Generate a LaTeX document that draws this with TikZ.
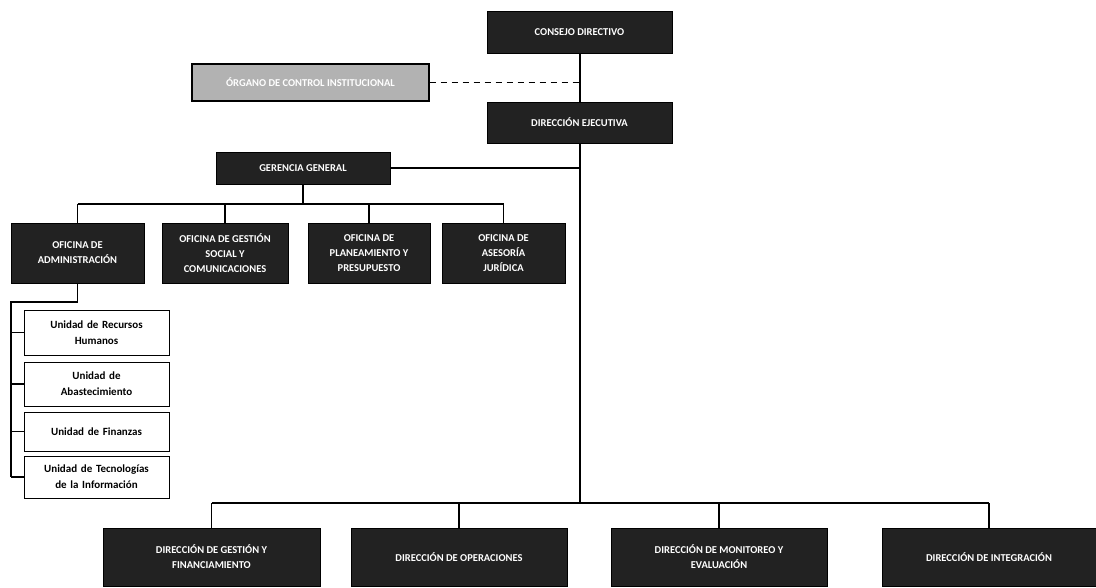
\documentclass[tikz,border=0pt]{standalone}
\usepackage{fontspec}
\setmainfont{Carlito}
\usetikzlibrary{positioning,calc}
\definecolor{orgdark}{RGB}{34,34,34}
\definecolor{orggrey}{RGB}{178,178,178}

\begin{document}
\begin{tikzpicture}[
  x=1pt, y=-1pt,
  font=\fontsize{10.5}{15}\selectfont\bfseries,
  darkbox/.style={draw=black, fill=orgdark, text=white, align=center,
                  inner sep=2pt, line width=0.8pt},
  greybox/.style={draw=black, fill=orggrey, text=white, align=center,
                  inner sep=2pt, line width=1.2pt},
  unitbox/.style={draw=black, fill=white, align=center, inner sep=2pt,
                  line width=1pt, minimum width=145, text width=140,
                  font=\fontsize{11}{16}\selectfont\bfseries},
  link/.style={draw=black, line width=1.2pt},
  mainlink/.style={draw=black, line width=2pt},
  every node/.style={align=center}
]
\useasboundingbox (0,0) rectangle (1096,587);

% top level
\node[darkbox, minimum width=185, minimum height=42] (cd) at (579.5,32) {CONSEJO DIRECTIVO};
\node[greybox, minimum width=237, minimum height=37] (oci) at (310.5,82.5) {ÓRGANO DE CONTROL INSTITUCIONAL};
\node[darkbox, minimum width=185, minimum height=41] (de) at (579.5,122.5) {DIRECCIÓN EJECUTIVA};
\node[darkbox, minimum width=174, minimum height=32] (gg) at (303,168) {GERENCIA GENERAL};

% oficinas
\node[darkbox, minimum width=133, minimum height=60] (oa) at (77.5,253) {OFICINA DE\\ADMINISTRACIÓN};
\node[darkbox, minimum width=126, minimum height=60] (ogs) at (225,253) {OFICINA DE GESTIÓN\\SOCIAL Y\\COMUNICACIONES};
\node[darkbox, minimum width=122, minimum height=60] (opp) at (369,253) {OFICINA DE\\PLANEAMIENTO Y\\PRESUPUESTO};
\node[darkbox, minimum width=123, minimum height=60] (oaj) at (503.5,253) {OFICINA DE\\ASESORÍA\\JURÍDICA};

% unidades
\node[unitbox, minimum height=45] (urh) at (96.5,332.5) {Unidad de Recursos\\Humanos};
\node[unitbox, minimum height=44] (uab) at (96.5,384) {Unidad de\\Abastecimiento};
\node[unitbox, minimum height=39] (ufi) at (96.5,431.5) {Unidad de Finanzas};
\node[unitbox, minimum height=42] (uti) at (96.5,477) {Unidad de Tecnologías\\de la Información};

% direcciones de linea
\node[darkbox, minimum width=217, minimum height=58] (dgf) at (211.5,557) {DIRECCIÓN DE GESTIÓN Y\\FINANCIAMIENTO};
\node[darkbox, minimum width=216, minimum height=58] (dop) at (459,557) {DIRECCIÓN DE OPERACIONES};
\node[darkbox, minimum width=216, minimum height=58] (dme) at (719,557) {DIRECCIÓN DE MONITOREO Y\\EVALUACIÓN};
\node[darkbox, minimum width=214, minimum height=58] (din) at (989,557) {DIRECCIÓN DE INTEGRACIÓN};

\coordinate (busg) at (0,204);
\coordinate (busu) at (11,302);
\coordinate (busd) at (0,503);

% connectors
\draw[mainlink] (cd) -- (de);
\draw[mainlink] (de.south) -- (de.south |- busd);
\draw[link, line width=1.8pt, dash pattern=on 6pt off 5pt] (oci.east) -- (cd.south |- oci.east);
\draw[link] (gg.east) -- (de.south |- gg.east);
\draw[link] (gg.south) -- (gg.south |- busg);
\draw[link] (oa.north |- busg) -- (oaj.north |- busg);
\foreach \n in {oa,ogs,opp,oaj}
  \draw[link] (\n.north |- busg) -- (\n.north);
\draw[link] (oa.south) -- (oa.south |- busu) -- (busu) -- (busu |- uti.west);
\foreach \n in {urh,uab,ufi,uti}
  \draw[link] (busu |- \n.west) -- (\n.west);
\draw[link] (dgf.north |- busd) -- (din.north |- busd);
\foreach \n in {dgf,dop,dme,din}
  \draw[link] (\n.north |- busd) -- (\n.north);
\end{tikzpicture}
\end{document}
